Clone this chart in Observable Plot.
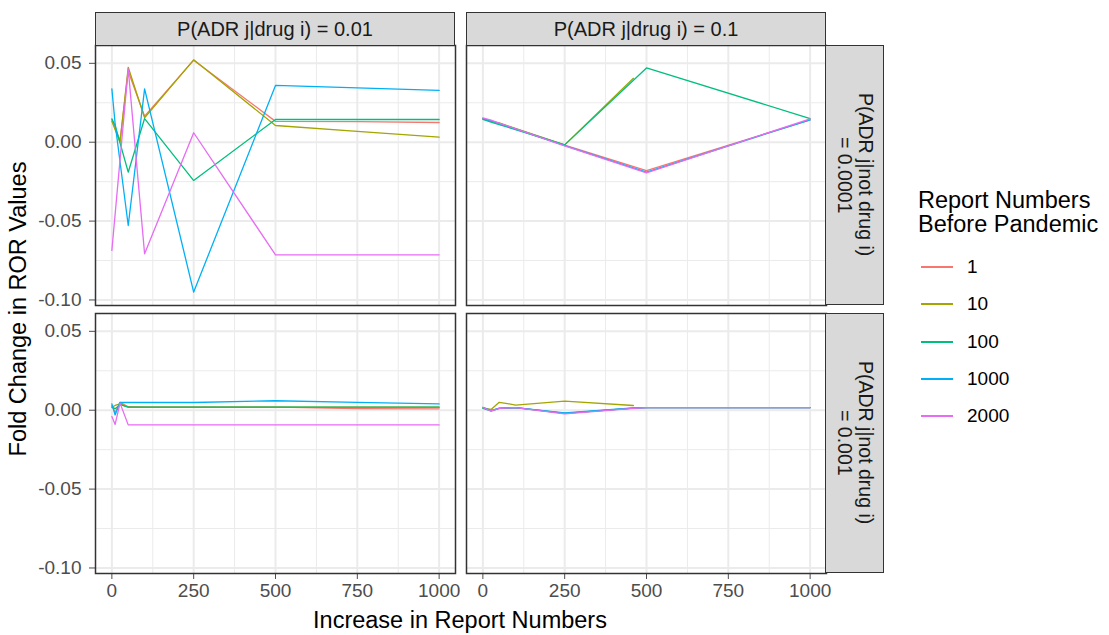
<!DOCTYPE html>
<html>
<head>
<meta charset="utf-8">
<script src="https://cdn.jsdelivr.net/npm/d3@7"></script>
<script src="https://cdn.jsdelivr.net/npm/@observablehq/plot@0.6"></script>
<style>
  body { margin: 0; background: #ffffff; font-family: "Liberation Sans", Arial, sans-serif; }
  #wrap { position: relative; width: 1109px; height: 635px; overflow: hidden; background: #ffffff; }
  #wrap svg { position: absolute; left: 0; top: 0; }
  .strip { position: absolute; box-sizing: border-box; background: #d9d9d9; border: 1.5px solid #333333;
           color: #1a1a1a; font-size: 20px; display: flex; align-items: center; justify-content: center; text-align: center; }
  .strip.right { writing-mode: vertical-rl; line-height: 21px; font-size: 19.5px; }
  .title { position: absolute; color: #000000; font-size: 23.5px; white-space: nowrap; }
  .legend-title { position: absolute; left: 918px; top: 188px; font-size: 23.5px; line-height: 24px; color: #000000; }
  .key { position: absolute; height: 2px; width: 32px; }
  .key-label { position: absolute; font-size: 19px; color: #000000; transform: translateY(-50%); }
</style>
</head>
<body>
<div id="wrap"></div>
<script>
// Simulated change in ROR after a surge of reports, by prior report count.
const increase = [0, 10, 25, 50, 75, 100, 250, 460, 500, 750, 1000];
const groupLabels = ["1", "10", "100", "1000", "2000"];
const groupColors = ["#F8766D", "#A3A500", "#00BF7D", "#00B0F6", "#E76BF3"];
const drugLevels = ["0.01", "0.1"];
const notDrugLevels = ["0.0001", "0.001"];
const xTicks = [0, 250, 500, 750, 1000];
const xMinor = [125, 375, 625, 875];
const yTicks = [-0.10, -0.05, 0.00, 0.05];
const yMinor = [-0.075, -0.025, 0.025];

// One row per report-number group, one column per entry of `increase` (null = no value)
// P(ADR j|drug i) = 0.01, P(ADR j|not drug i) = 0.0001
const rorD001N0001 = [
  [0.0142, null, 0.0010, 0.0450, null, 0.0165, 0.0520, null, 0.0132, 0.0130, 0.0125],
  [0.0132, null, 0.0000, 0.0475, null, 0.0155, 0.0522, null, 0.0106, 0.0069, 0.0032],
  [0.0148, 0.0106, null, -0.0190, null, 0.0150, -0.0243, null, 0.0144, 0.0144, 0.0144],
  [0.0338, 0.0117, null, -0.0528, null, 0.0338, -0.0950, null, 0.0360, 0.0345, 0.0328],
  [-0.0686, null, null, 0.0465, null, -0.0707, 0.0060, null, -0.0714, -0.0714, -0.0714]
];
// P(ADR j|drug i) = 0.1, P(ADR j|not drug i) = 0.0001
const rorD01N0001 = [
  [0.0148, null, 0.0135, 0.0120, null, null, -0.0019, null, -0.0180, null, 0.0142],
  [0.0150, null, 0.0132, 0.0122, null, null, -0.0017, 0.0405, null, null, null],
  [0.0145, null, 0.0128, 0.0112, null, null, -0.0017, null, 0.0471, null, 0.0150],
  [0.0150, null, 0.0136, 0.0118, null, null, -0.0021, null, -0.0189, null, 0.0142],
  [0.0155, null, 0.0140, 0.0121, null, null, -0.0023, null, -0.0195, null, 0.0148]
];
// P(ADR j|drug i) = 0.01, P(ADR j|not drug i) = 0.001
const rorD001N001 = [
  [0.0030, -0.0015, 0.0050, 0.0022, null, 0.0019, 0.0019, null, 0.0019, 0.0010, 0.0009],
  [0.0020, 0.0030, 0.0040, 0.0019, null, 0.0019, 0.0019, null, 0.0019, 0.0019, 0.0019],
  [0.0020, 0.0010, 0.0035, 0.0019, null, 0.0019, 0.0019, null, 0.0019, 0.0019, 0.0019],
  [0.0040, -0.0030, 0.0050, 0.0049, null, 0.0049, 0.0049, null, 0.0060, 0.0050, 0.0040],
  [-0.0040, -0.0090, 0.0045, -0.0093, null, -0.0093, -0.0093, null, -0.0093, -0.0093, -0.0093]
];
// P(ADR j|drug i) = 0.1, P(ADR j|not drug i) = 0.001
const rorD01N001 = [
  [0.0017, null, -0.0004, 0.0012, null, 0.0016, -0.0020, 0.0013, 0.0017, null, 0.0017],
  [0.0015, null, 0.0005, 0.0050, 0.0042, 0.0032, 0.0058, 0.0030, null, null, null],
  [0.0012, null, -0.0004, 0.0012, null, 0.0016, -0.0020, 0.0013, 0.0017, null, 0.0017],
  [0.0018, null, -0.0003, 0.0013, null, 0.0016, -0.0017, 0.0014, 0.0017, null, 0.0017],
  [0.0017, null, -0.0006, 0.0012, null, 0.0017, -0.0023, 0.0012, 0.0017, null, 0.0017]
];

const rows = [];
function addPanel(matrix, drug, notDrug) {
  matrix.forEach((vals, gi) => vals.forEach((v, xi) => {
    if (v != null) rows.push({increase: increase[xi], ror: v, group: groupLabels[gi], drug, notDrug});
  }));
}
addPanel(rorD001N0001, "0.01", "0.0001");
addPanel(rorD01N0001, "0.1", "0.0001");
addPanel(rorD001N001, "0.01", "0.001");
addPanel(rorD01N001, "0.1", "0.001");

const W = 1109, H = 635;
const M = {top: 45, right: 283, bottom: 62, left: 94};
const font = "'Liberation Sans', Arial, sans-serif";

const chart = Plot.plot({
  width: W, height: H,
  marginTop: M.top, marginRight: M.right, marginBottom: M.bottom, marginLeft: M.left,
  style: {fontFamily: font, fontSize: "19px", color: "#4d4d4d", background: "transparent"},
  facet: {data: rows, x: "drug", y: "notDrug"},
  fx: {domain: drugLevels, paddingInner: 0.03, paddingOuter: 0, axis: null},
  fy: {domain: notDrugLevels, paddingInner: 0.03, paddingOuter: 0, axis: null},
  x: {domain: [-50, 1050], ticks: xTicks, tickFormat: d => String(d), tickSize: 6, tickPadding: 4, label: null},
  y: {domain: [-0.1035, 0.0613], ticks: yTicks, tickFormat: d => d.toFixed(2), tickSize: 6, tickPadding: 8, label: null},
  color: {domain: groupLabels, range: groupColors},
  marks: [
    Plot.ruleX(xMinor, {stroke: "#ebebeb", strokeWidth: 1}),
    Plot.ruleY(yMinor, {stroke: "#ebebeb", strokeWidth: 1}),
    Plot.ruleX(xTicks, {stroke: "#ebebeb", strokeWidth: 2}),
    Plot.ruleY(yTicks, {stroke: "#ebebeb", strokeWidth: 2}),
    Plot.line(rows, {x: "increase", y: "ror", z: "group", stroke: "group", strokeWidth: 1.3}),
    Plot.frame({stroke: "#333333", strokeWidth: 1.5})
  ]
});

const wrap = document.getElementById("wrap");
wrap.appendChild(chart);

// Facet band positions, from the plot's own fx / fy scales
function band(name, domain, range) {
  let s = null;
  try { s = chart.scale(name); } catch (e) { s = null; }
  if (s && typeof s.apply === "function" && s.bandwidth) return {pos: v => s.apply(v), bw: s.bandwidth};
  const b = d3.scaleBand().domain(domain).range(range).paddingInner(0.03).paddingOuter(0);
  return {pos: v => b(v), bw: b.bandwidth()};
}
const fxB = band("fx", drugLevels, [M.left, W - M.right]);
const fyB = band("fy", notDrugLevels, [M.top, H - M.bottom]);

function addDiv(cls, css, html) {
  const d = document.createElement("div");
  d.className = cls;
  Object.assign(d.style, css);
  d.innerHTML = html;
  wrap.appendChild(d);
  return d;
}

// Column strips
const stripH = 33;
drugLevels.forEach(v => {
  addDiv("strip", {left: fxB.pos(v) + "px", top: (fyB.pos(notDrugLevels[0]) - stripH) + "px",
    width: fxB.bw + "px", height: (stripH + 1) + "px"}, `P(ADR j|drug i) = ${v}`);
});
// Row strips
const stripW = 59;
const lastCol = fxB.pos(drugLevels[drugLevels.length - 1]) + fxB.bw;
notDrugLevels.forEach(v => {
  addDiv("strip right", {left: (lastCol - 1) + "px", top: fyB.pos(v) + "px",
    width: stripW + "px", height: fyB.bw + "px"}, `P(ADR j|not drug i)<br>= ${v}`);
});

// Axis titles
const panelMidX = (M.left + lastCol) / 2;
addDiv("title", {left: panelMidX + "px", top: "620px", transform: "translate(-50%, -50%)"}, "Increase in Report Numbers");
addDiv("title", {left: "18px", top: ((M.top + H - M.bottom) / 2) + "px", transform: "translate(-50%, -50%) rotate(-90deg)"}, "Fold Change in ROR Values");

// Legend
addDiv("legend-title", {}, "Report Numbers<br>Before Pandemic");
groupLabels.forEach((g, i) => {
  const cy = 267 + i * 37.3;
  addDiv("key", {left: "921px", top: (cy - 1) + "px", background: groupColors[i]}, "");
  addDiv("key-label", {left: "967px", top: cy + "px"}, g);
});
</script>
</body>
</html>
